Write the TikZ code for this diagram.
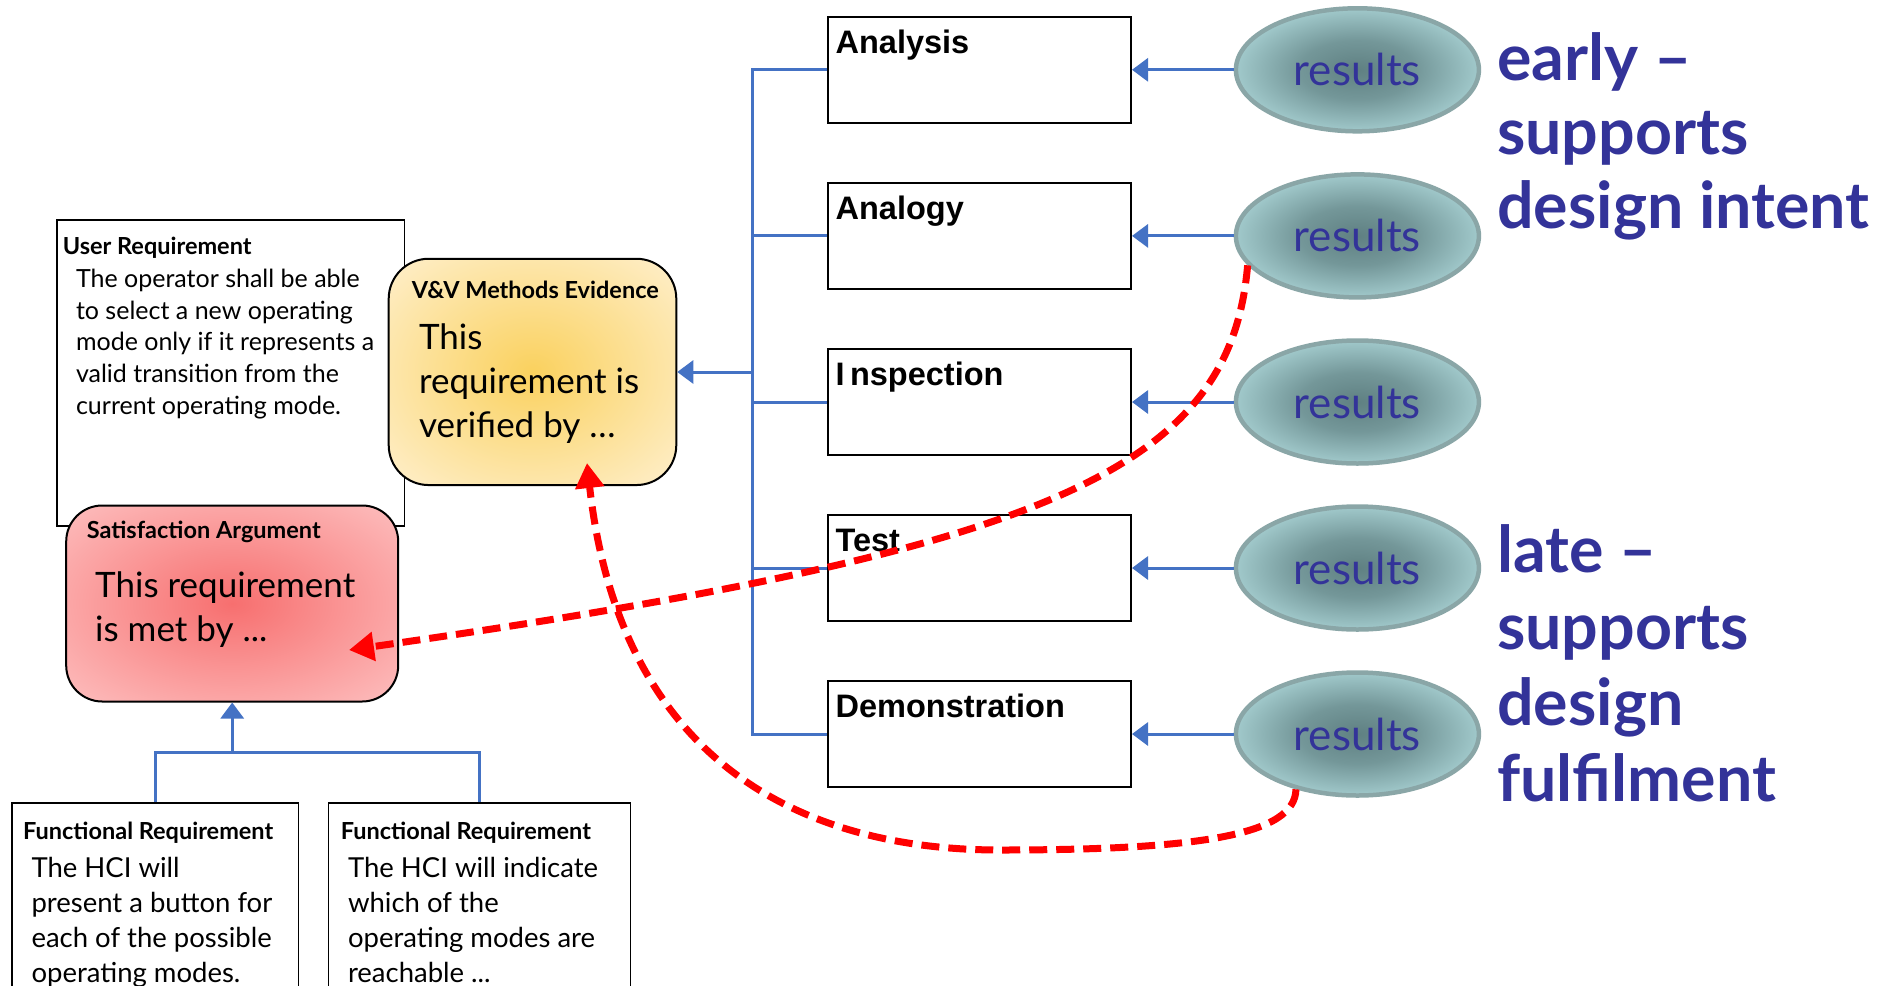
\documentclass[tikz,border=0pt]{standalone}
\usepackage{fontspec}
\setmainfont{Lato}
\newfontfamily\labelfont{Liberation Sans}
\usetikzlibrary{arrows.meta,shapes.geometric,calc}

\definecolor{linkblue}{HTML}{4472C4}
\definecolor{navy}{HTML}{333399}
\definecolor{dashred}{HTML}{FF0000}
\definecolor{ellrim}{HTML}{8AA6A7}
\definecolor{ellcore}{HTML}{5F8082}
\definecolor{elledge}{HTML}{B2DCDE}
\definecolor{vvcore}{HTML}{FAD15E}
\definecolor{vvedge}{HTML}{FFF3DA}
\definecolor{satcore}{HTML}{F76F6F}
\definecolor{satedge}{HTML}{FFDADA}

\pgfdeclareradialshading{ellglow}{\pgfpointorigin}{color(0bp)=(ellcore); color(12bp)=(ellcore!75!elledge); color(30bp)=(elledge); color(60bp)=(elledge)}
\pgfdeclareradialshading{vvglow}{\pgfpointorigin}{color(0bp)=(vvcore); color(40bp)=(vvedge); color(75bp)=(vvedge)}
\pgfdeclareradialshading{satglow}{\pgfpointorigin}{color(0bp)=(satcore); color(48bp)=(satedge); color(75bp)=(satedge)}

\tikzset{
  reqbox/.style={draw=black, line width=1.8pt, fill=white, inner sep=0pt},
  methodbox/.style={draw=black, line width=2pt, fill=white, minimum width=303pt, minimum height=106pt, inner sep=0pt},
  methodlabel/.style={inner sep=0pt, anchor=base west, font=\labelfont\bfseries\fontsize{32.5}{32.5}\selectfont},
  resultell/.style={ellipse, draw=ellrim, line width=4.5pt, shade, shading=ellglow, minimum width=243pt, minimum height=123pt, inner sep=0pt, text=navy, font=\fontsize{44}{44}\selectfont},
  titletext/.style={inner sep=0pt, anchor=base west, font=\bfseries\fontsize{23.5}{27}\selectfont},
  bodytext/.style={inner sep=0pt, anchor=base west, align=left},
  sidenote/.style={inner sep=0pt, anchor=base west, align=left, text=navy},
  link/.style={draw=linkblue, line width=3pt},
  linkarrow/.style={link, -{Triangle[length=16pt,width=23pt]}},
  evidence/.style={draw=dashred, line width=7pt, dash pattern=on 18pt off 9pt, -{Triangle[length=25pt,width=28pt]}}
}

\begin{document}
\begin{tikzpicture}[x=1pt,y=-1pt]
\useasboundingbox (0,0) rectangle (1887,985);
\clip (0,0) rectangle (1887,985);
\fill[white] (0,0) rectangle (1887,985);

% requirement side (multi-line texts are placed by the baseline of their last line)
\node[reqbox, minimum width=347.8pt, minimum height=305.7pt] (ur) at (230.5,373) {};
\node[titletext] (urtitle) at (62.6,254) {User Requirement};
\node[bodytext, font=\fontsize{25}{31.6}\selectfont] (urbody) at (75.8,414)
  {The operator shall be able\\to select a new operating\\mode only if it represents a\\valid transition from the\\current operating mode.};

\node[draw=black, line width=2pt, rounded corners=40pt, shade, shading=vvglow, minimum width=287.6pt, minimum height=226.3pt, inner sep=0pt] (vv) at (532.5,371.9) {};
\node[titletext] (vvtitle) at (411.6,298) {V\&V Methods Evidence};
\node[bodytext, font=\fontsize{35}{44}\selectfont] (vvbody) at (418.8,437)
  {This\\requirement is\\verified by …};

\node[draw=black, line width=2pt, rounded corners=36pt, shade, shading=satglow, minimum width=332pt, minimum height=196pt, inner sep=0pt] (sat) at (232.2,603.5) {};
\node[titletext] (sattitle) at (86.6,538) {Satisfaction Argument};
\node[bodytext, font=\fontsize{35}{44}\selectfont] (satbody) at (95,641)
  {This requirement\\is met by ...};

\node[reqbox, minimum width=286.4pt, minimum height=200pt] (fr1) at (155.2,902.7) {};
\node[titletext] (fr1title) at (22.9,839) {Functional Requirement};
\node[bodytext, font=\fontsize{27.5}{35}\selectfont] (fr1body) at (31.3,982)
  {The HCI will\\present a button for\\each of the possible\\operating modes.};

\node[reqbox, minimum width=302pt, minimum height=200pt] (fr2) at (479.5,902.7) {};
\node[titletext] (fr2title) at (340.6,839) {Functional Requirement};
\node[bodytext, font=\fontsize{27.5}{35}\selectfont] (fr2body) at (347.8,982)
  {The HCI will indicate\\which of the\\operating modes are\\reachable ...};

% functional requirements feed the satisfaction argument
\coordinate (fork) at (232.2,752);
\draw[link] (fr1.north) |- (fork) -| (fr2.north);
\draw[linkarrow] (fork) -- (sat.south);

% verification methods
\node[methodbox] (analysis) at (979.5,69.8) {};
\node[methodbox] (analogy) at (979.5,235.9) {};
\node[methodbox] (inspection) at (979.5,402) {};
\node[methodbox] (test) at (979.5,568) {};
\node[methodbox] (demo) at (979.5,734) {};
\node[methodlabel] (analysislbl) at ($(analysis.north west)+(8.4,37.4)$) {Analysis};
\node[methodlabel] (analogylbl) at ($(analogy.north west)+(8.4,37.4)$) {Analogy};
\node[methodlabel] (inspectionlbl) at ($(inspection.north west)+(8.4,37.4)$) {I\,nspection};
\node[methodlabel] (testlbl) at ($(test.north west)+(8.4,37.4)$) {Test};
\node[methodlabel] (demolbl) at ($(demo.north west)+(8.4,37.4)$) {Demonstration};

\coordinate (trunk) at (752,372);
\draw[link] (analysis.west) -| (trunk) |- (demo.west);
\foreach \b in {analogy,inspection,test}
  \draw[link] (\b.west) -- (\b.west -| trunk);
\draw[linkarrow] (trunk) -- (trunk -| vv.east);

% results
\node[resultell] (r1) at (1357.4,69.8) {results};
\node[resultell] (r2) at (1357.4,235.9) {results};
\node[resultell] (r3) at (1357.4,402) {results};
\node[resultell] (r4) at (1357.4,568) {results};
\node[resultell] (r5) at (1357.4,734) {results};
\foreach \r/\b in {r1/analysis,r2/analogy,r3/inspection,r4/test,r5/demo}
  \draw[linkarrow] (\r.west) -- (\b.east);

\node[sidenote, font=\bfseries\fontsize{64.5}{74}\selectfont] (early) at (1497,228.6)
  {early –\\supports\\design intent};
\node[sidenote, font=\bfseries\fontsize{64.5}{76.3}\selectfont] (late) at (1497,801.7)
  {late –\\supports\\design\\fulfilment};

% evidence flows back to the requirement
\coordinate (sathit) at (349,650);
\coordinate (vvhit) at (587,463);
\draw[evidence] (r2.195) .. controls (1230,470) and (1050,550) .. (sathit);
\draw[evidence] (r5.222) .. controls (1295,835) and (1200,850) .. (1000,850)
  .. controls (800,850) and (620,760) .. (vvhit);
\end{tikzpicture}
\end{document}
